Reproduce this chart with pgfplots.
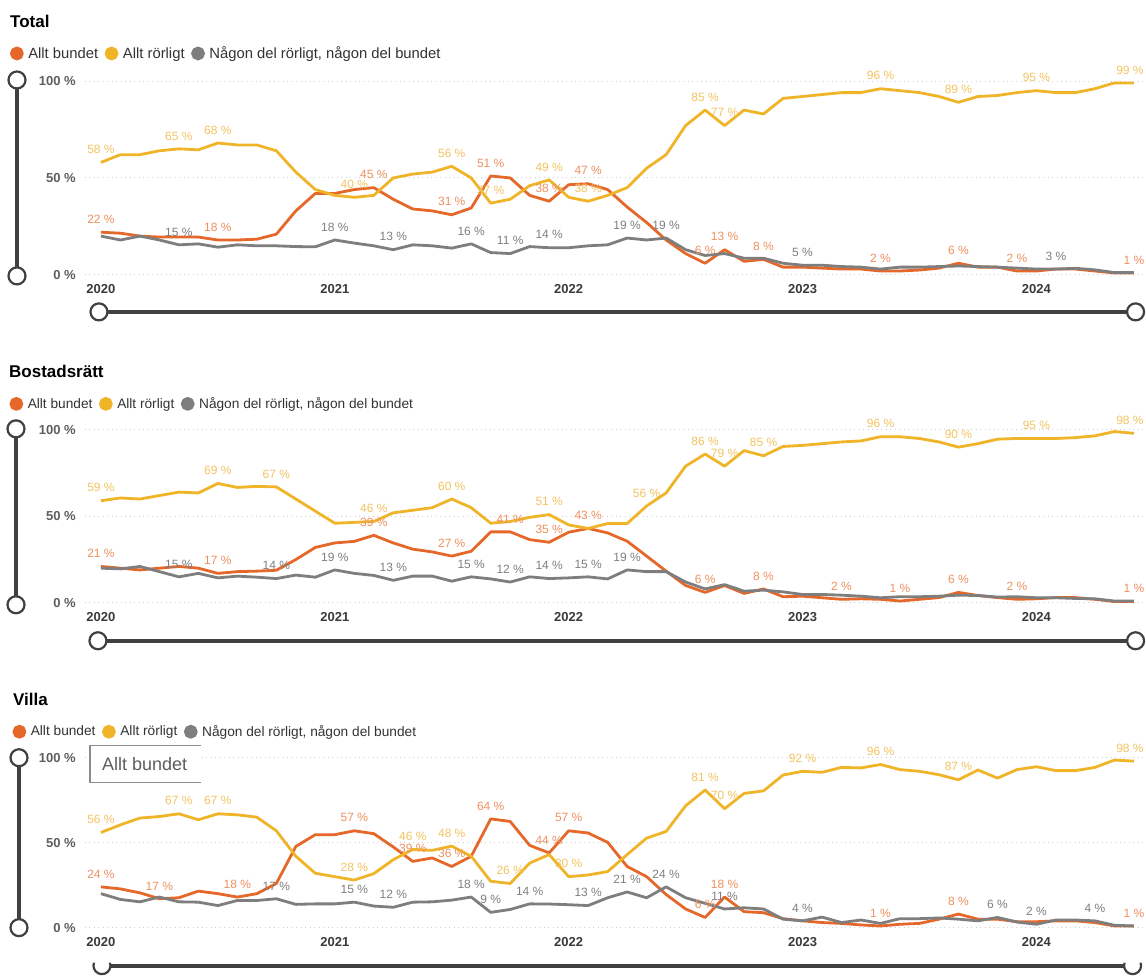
\documentclass[border=0pt]{standalone}
\usepackage{fontspec}
\setmainfont{Liberation Sans}
\usepackage{pgfplots}
\usepackage{pgfplotstable}
\pgfplotsset{compat=1.18}

\definecolor{cbund}{HTML}{E5682A}
\definecolor{crorl}{HTML}{F0B429}
\definecolor{cnagon}{HTML}{7E7E7E}
\definecolor{lbund}{HTML}{EE9160}
\definecolor{lrorl}{HTML}{F3C462}
\definecolor{lnagon}{HTML}{808080}
\definecolor{slider}{HTML}{404040}
\definecolor{gridc}{HTML}{CFCFCF}
\definecolor{tickc}{HTML}{5E5E5E}
\definecolor{xtickc}{HTML}{3A3A3A}
\definecolor{legc}{HTML}{333333}

% month index 0 = jan 2020
\pgfplotstableread{
m bund rorl nagon
0 22 58 20
1 21.5 62 18
2 20 62 20
3 19.5 64 18
4 19.5 65 15.5
5 19.5 64.5 16
6 18 68 14.3
7 18 67 15.5
8 18.4 67 15
9 21 64 15
10 33 53 14.6
11 42 44 14.5
12 42 41 18
13 44 40 16.4
14 45 41 15
15 39 50 13
16 34 52 15.5
17 33 53 15
18 31 56 13.8
19 34.5 50 16
20 51 37 11.5
21 50 39 11
22 41 46 14.6
23 38 49 14
24 46.5 40 14
25 47 38 15
26 44 41 15.5
27 35 45 19
28 27 55 18
29 18 62 19
30 11 77 13
31 6 85 10
32 13 77 11
33 7 85 8.6
34 8 83 8.6
35 4 91 6
36 4 92 5
37 3.5 93 5
38 3 94 4.3
39 3 94 4
40 2 96 3
41 2 95 4
42 2.5 94 4
43 3.5 92 4.3
44 6 89 4.6
45 4 92 4.3
46 4 92.5 4
47 2 94 3.5
48 2 95 3
49 3 94 3
50 3 94 3.4
51 2 96 2.6
52 1 99 1.2
53 1 99 1.2
}\total

\pgfplotstableread{
m bund rorl nagon
0 21 59 20
1 20 60.6 19.6
2 19 60 21
3 20 62 18
4 21 64 15
5 20 63.5 17
6 17 69 14.4
7 18 66.7 15.4
8 18.3 67.3 14.8
9 18.8 67 14
10 25 60 16
11 32 53 14.8
12 34.6 46 19
13 35.5 46.5 17
14 39 47 15.8
15 34.6 52 13
16 31 53.5 15.4
17 29.4 55 15.4
18 27 60 12.5
19 29.8 55 15
20 41 46 13.8
21 41 47 12
22 36.5 49.4 15
23 35 51 14
24 40.8 45 14.4
25 43 43 15
26 40.4 45.8 13.8
27 35.6 45.8 19
28 27 56 18
29 18.3 63.5 18
30 10 79 12
31 6 86 8
32 10 79 10.5
33 5.4 88 6.7
34 8 85 7.3
35 3.5 90.4 6.3
36 3.8 91 4.8
37 2.9 92 4.8
38 2 93 4.4
39 2.3 93.6 3.8
40 2 96 2.9
41 1 96 3.5
42 2 95 3.5
43 3 93 3.8
44 6 90 4.4
45 4.2 92 4.2
46 3 94.6 3.3
47 2 95 3.5
48 2.3 95 2.9
49 3 95 2.9
50 3 95.5 2.5
51 2 96.5 2.3
52 0.7 99 1
53 0.7 98 1
}\bostad

\pgfplotstableread{
m bund rorl nagon
0 24 56 20
1 22.8 60.5 16.6
2 20.5 64.5 15.2
3 17 65.4 18
4 17.6 67 15.2
5 21.5 63.5 15
6 20 67 13
7 18 66.4 16
8 20 65 16
9 26 57 17
10 47.8 42 13.7
11 54.7 32 14
12 54.7 30 14
13 57 28 15
14 55.3 31.8 12.7
15 47.5 40 12
16 39 46 15
17 41 45.5 15.2
18 36 48 16.2
19 42 42 18
20 64 27.3 9
21 62.5 26 10.7
22 48.4 38 14
23 44 43 13.9
24 57 30 13.5
25 55.7 31 13
26 50.2 33 17.6
27 36 43 21
28 30 52.7 17.6
29 19.5 56.6 24
30 11 71.7 17.6
31 6 81 14.3
32 18 70 11
33 9.4 79 11.7
34 8.8 80.5 11
35 5.3 89.8 5
36 4 92 4
37 3 91.4 6.2
38 2.5 94.3 3
39 1.6 94 4.5
40 1 96 2.5
41 2 93 5.3
42 2.5 92 5.3
43 5 90 5.7
44 8 87 5
45 5 92.8 4
46 5 88 6
47 3.5 93 3.3
48 3.5 94.7 2
49 4 92.4 4.5
50 4 92.4 4.5
51 3 94.3 4
52 1 98.6 1.4
53 1 98 1
}\villa

\pgfplotsset{
  panel/.style={
    scale only axis, width=1061pt,
    xmin=-0.82, xmax=53.6, ymin=0, ymax=100,
    clip=false,
    axis line style={draw=none}, tick style={draw=none},
    xtick={0,12,24,36,48}, xticklabels={2020,2021,2022,2023,2024},
    ytick={0,50,100}, yticklabels={0 \%,50 \%,100 \%},
    ymajorgrids=true,
    grid style={color=gridc, line width=0.9pt, dash pattern=on 1pt off 3.5pt},
    ticklabel style={font=\fontsize{13}{15}\selectfont\bfseries, inner sep=0pt},
    yticklabel style={text=tickc, anchor=east, xshift=-9pt},
    xticklabel style={text=xtickc, anchor=base, yshift=-18.5pt},
    legend columns=-1,
    legend image code/.code={\fill[##1] (0pt,0pt) circle (5.5pt);},
    legend cell align=left,
    legend style={draw=none, fill=none, anchor=west, inner sep=0pt, outer sep=0pt,
      text=legc, nodes={inner sep=0pt},
      /tikz/every odd column/.style={column sep=4.5pt},
      /tikz/every even column/.style={column sep=6.5pt}},
  },
  sbund/.style={color=cbund, line width=2.8pt, line join=round},
  srorl/.style={color=crorl, line width=2.8pt, line join=round},
  snagon/.style={color=cnagon, line width=2.8pt, line join=round},
  lab/.style={draw=none, mark=none, forget plot,
    nodes near coords={\pgfplotspointmeta{} \%},
    point meta=explicit symbolic,
    every node near coord/.append style={font=\fontsize{12}{14}\selectfont,
      inner sep=0pt, yshift=8.5pt, text=#1}},
}

\begin{document}
\begin{tikzpicture}
\fill[white] (0pt,0pt) rectangle (1146pt,-970pt);

% ---------- Total ----------
\begin{axis}[panel, height=194pt, at={(85pt,-275pt)}, anchor=south west,
  legend style={at={(-0.0707,1.1418)}, font=\fontsize{14.8}{17}\selectfont}]
\addplot[sbund] table[x=m, y=bund] {\total};
\addlegendentry{Allt bundet}
\addplot[srorl] table[x=m, y=rorl] {\total};
\addlegendentry{Allt rörligt}
\addplot[snagon] table[x=m, y=nagon] {\total};
\addlegendentry{Någon del rörligt, någon del bundet}
\addplot[lab=lbund] coordinates {(0,22) [22] (6,18) [18] (14,45) [45] (18,31) [31]
  (20,51) [51] (23,38) [38] (25,47) [47] (31,6) [6] (32,13) [13] (34,8) [8]
  (40,2) [2] (44,6) [6] (47,2) [2] (53,1) [1]};
\addplot[lab=lrorl] coordinates {(0,58) [58] (4,65) [65] (6,68) [68] (13,40) [40]
  (18,56) [56] (20,37) [37] (23,49) [49] (25,38) [38] (31,85) [85] (32,77) [77]
  (40,96) [96] (44,89) [89] (48,95) [95] (52.8,99) [99]};
\addplot[lab=lnagon] coordinates {(4,15.5) [15] (12,18) [18] (15,13) [13] (19,16) [16]
  (21,11) [11] (23,14) [14] (27,19) [19] (29,19) [19] (36,5) [5] (49,3) [3]};
\end{axis}

% ---------- Bostadsrätt ----------
\begin{axis}[panel, height=173pt, at={(85pt,-603pt)}, anchor=south west,
  legend style={at={(-0.0712,1.150)}, font=\fontsize{13.7}{16}\selectfont}]
\addplot[sbund] table[x=m, y=bund] {\bostad};
\addlegendentry{Allt bundet}
\addplot[srorl] table[x=m, y=rorl] {\bostad};
\addlegendentry{Allt rörligt}
\addplot[snagon] table[x=m, y=nagon] {\bostad};
\addlegendentry{Någon del rörligt, någon del bundet}
\addplot[lab=lbund] coordinates {(0,21) [21] (6,17) [17] (14,39) [39] (18,27) [27]
  (21,41) [41] (23,35) [35] (25,43) [43] (31,6) [6] (34,8) [8] (38,2) [2]
  (41,1) [1] (44,6) [6] (47,2) [2] (53,0.7) [1]};
\addplot[lab=lrorl] coordinates {(0,59) [59] (6,69) [69] (9,67) [67] (14,47) [46]
  (18,60) [60] (23,51) [51] (28,56) [56] (31,86) [86] (32,79) [79] (34,85) [85]
  (40,96) [96] (44,90) [90] (48,95) [95] (52.8,98) [98]};
\addplot[lab=lnagon] coordinates {(4,15) [15] (9,14) [14] (12,19) [19] (15,13) [13]
  (19,15) [15] (21,12) [12] (23,14) [14] (25,15) [15] (27,19) [19]};
\end{axis}

% ---------- Villa ----------
\begin{axis}[panel, height=170pt, at={(85pt,-928pt)}, anchor=south west,
  legend style={at={(-0.0683,1.153)}, font=\fontsize{13.7}{16}\selectfont}]
\addplot[sbund] table[x=m, y=bund] {\villa};
\addlegendentry{Allt bundet}
\addplot[srorl] table[x=m, y=rorl] {\villa};
\addlegendentry{Allt rörligt}
\addplot[snagon] table[x=m, y=nagon] {\villa};
\addlegendentry{Någon del rörligt, någon del bundet}
\addplot[lab=lbund] coordinates {(0,24) [24] (3,17) [17] (7,18) [18] (13,57) [57]
  (16,39) [39] (18,36) [36] (20,64) [64] (23,44) [44] (24,57) [57] (31,6) [6]
  (32,18) [18] (40,1) [1] (44,8) [8] (53,1) [1]};
\addplot[lab=lrorl] coordinates {(0,56) [56] (4,67) [67] (6,67) [67] (13,28) [28]
  (16,46) [46] (18,48) [48] (21,26) [26] (24,30) [30] (31,81) [81] (32,70) [70]
  (36,92) [92] (40,96) [96] (44,87) [87] (52.8,98) [98]};
\addplot[lab=lnagon] coordinates {(9,17) [17] (13,15) [15] (15,12) [12] (19,18) [18]
  (20,9) [9] (22,14) [14] (25,13) [13] (27,21) [21] (29,24) [24] (32,11) [11]
  (36,4) [4] (46,6) [6] (48,2) [2] (51,4) [4]};
\end{axis}

% ---------- titles, sliders, tooltip ----------
\begin{scope}[x=1pt, y=-1pt]
\tikzset{knob/.style={circle, draw=slider, fill=white, line width=2.2pt,
  minimum size=17pt, inner sep=0pt}}
\node[anchor=west, inner sep=0pt, font=\fontsize{17}{20}\selectfont\bfseries] at (10,21.7) {Total};
\node[anchor=west, inner sep=0pt, font=\fontsize{17}{20}\selectfont\bfseries] at (9,372) {Bostadsrätt};
\node[anchor=west, inner sep=0pt, font=\fontsize{17}{20}\selectfont\bfseries] at (13,700) {Villa};

\draw[slider, line width=4pt] (17,80) -- (17,276);
\draw[slider, line width=4pt] (99,312) -- (1136,312);
\node[knob] at (17,80) {}; \node[knob] at (17,276) {};
\node[knob] at (99,312) {}; \node[knob] at (1136,312) {};

\draw[slider, line width=4pt] (16,429) -- (16,605);
\draw[slider, line width=4pt] (98,641) -- (1136,641);
\node[knob] at (16,429) {}; \node[knob] at (16,605) {};
\node[knob] at (98,641) {}; \node[knob] at (1136,641) {};

\draw[slider, line width=4pt] (19,758) -- (19,928);
\draw[slider, line width=4pt] (102,966) -- (1133,966);
\node[knob] at (19,758) {}; \node[knob] at (19,928) {};
% bottom knobs are cut by the lower edge of the picture
\filldraw[fill=white, draw=slider, line width=2.2pt]
  (102,966) ++(-20:8.5) arc[start angle=-20, end angle=200, radius=8.5];
\filldraw[fill=white, draw=slider, line width=2.2pt]
  (1133,966) ++(-20:8.5) arc[start angle=-20, end angle=200, radius=8.5];

\fill[white] (90,746) rectangle (201,783);
\draw[color=gray!90, line width=1.3pt] (201,746) -- (90,746) -- (90,783) -- (201,783);
\node[anchor=west, inner sep=0pt, font=\fontsize{18}{21}\selectfont, text=tickc] at (102,764.5) {Allt bundet};
\end{scope}
\end{tikzpicture}
\end{document}
